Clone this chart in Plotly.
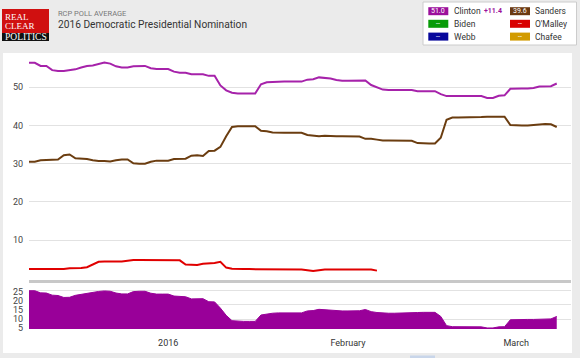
import plotly.graph_objects as go
import pandas as pd

# ---------------- data ----------------
start_date = "2015-12-08"
n_days = 92
dates = pd.date_range(start_date, periods=n_days, freq="D")

clinton = [56.4, 56.4, 55.6, 55.6, 54.5, 54.3, 54.3, 54.6, 54.7, 55.2,
           55.6, 55.7, 56.2, 56.5, 56.2, 55.5, 55.2, 55.2, 55.5, 55.6,
           55.6, 55.0, 54.8, 54.8, 54.8, 54.1, 53.8, 53.8, 53.4, 53.4,
           53.4, 53.0, 53.0, 50.5, 49.2, 48.6, 48.4, 48.4, 48.4, 48.4,
           50.8, 51.3, 51.4, 51.5, 51.5, 51.5, 51.5, 51.5, 52.0, 52.1,
           52.6, 52.4, 52.3, 51.9, 51.7, 51.7, 51.7, 51.7, 51.8, 50.6,
           49.9, 49.4, 49.3, 49.3, 49.3, 49.3, 49.3, 49.0, 49.0, 49.0,
           49.0, 48.2, 47.7, 47.7, 47.7, 47.7, 47.7, 47.7, 47.7, 47.2,
           47.2, 47.8, 47.9, 49.6, 49.7, 49.7, 49.7, 49.8, 50.2, 50.2,
           50.3, 51.0]

sanders = [30.5, 30.5, 30.9, 31.0, 31.1, 31.1, 32.2, 32.4, 31.4, 31.3,
           31.2, 30.9, 30.7, 30.7, 30.6, 30.9, 31.1, 31.1, 30.1, 30.0,
           30.0, 30.5, 30.8, 30.8, 30.8, 31.2, 31.3, 31.3, 32.1, 32.2,
           32.0, 33.3, 33.4, 34.4, 37.2, 39.6, 39.8, 39.8, 39.8, 39.8,
           38.6, 38.5, 38.2, 38.1, 38.1, 38.1, 38.1, 38.1, 37.5, 37.4,
           37.2, 37.3, 37.2, 37.2, 37.2, 37.2, 37.2, 37.1, 36.5, 36.5,
           36.3, 36.1, 36.1, 36.1, 36.1, 36.1, 36.0, 35.4, 35.3, 35.3,
           35.3, 36.8, 41.5, 42.1, 42.1, 42.1, 42.1, 42.1, 42.2, 42.3,
           42.3, 42.3, 42.3, 40.1, 40.0, 40.0, 40.0, 40.1, 40.3, 40.4,
           40.3, 39.6]

omalley = [2.4, 2.4, 2.4, 2.4, 2.3, 2.3, 2.4, 2.6, 2.6, 2.7,
           2.9, 3.6, 4.3, 4.4, 4.4, 4.4, 4.4, 4.6, 4.8, 4.8,
           4.8, 4.8, 4.8, 4.8, 4.8, 4.8, 4.7, 3.6, 3.5, 3.5,
           3.8, 3.9, 4.0, 4.3, 2.8, 2.5, 2.4, 2.4, 2.4, 2.4,
           2.4, 2.4, 2.4, 2.4, 2.4, 2.3, 2.3, 2.3, 2.1, 1.9,
           2.1, 2.3, 2.3, 2.3, 2.3, 2.3, 2.3, 2.3, 2.3, 2.3,
           2.0]

spread = [25.9, 25.9, 24.7, 24.6, 23.4, 23.2, 22.1, 22.2, 23.3, 23.9,
          24.4, 24.8, 25.5, 25.8, 25.6, 24.6, 24.1, 24.1, 25.4, 25.6,
          25.6, 24.5, 24.0, 24.0, 24.0, 22.9, 22.5, 22.5, 21.3, 21.2,
          21.4, 19.7, 19.6, 16.1, 12.0, 9.0, 8.6, 8.6, 8.6, 8.6,
          12.2, 12.8, 13.2, 13.4, 13.4, 13.4, 13.4, 13.4, 14.5, 14.7,
          15.4, 15.1, 15.1, 14.7, 14.5, 14.5, 14.5, 14.6, 15.3, 14.1,
          13.6, 13.3, 13.2, 13.2, 13.2, 13.2, 13.3, 13.6, 13.7, 13.7,
          13.7, 11.4, 6.2, 5.6, 5.6, 5.6, 5.6, 5.6, 5.5, 4.9,
          4.9, 5.5, 5.6, 9.5, 9.7, 9.7, 9.7, 9.7, 9.9, 9.8,
          10.0, 11.4]

main_ticks = [10, 20, 30, 40, 50]
spread_ticks = [5, 10, 15, 20, 25]
month_ticks = ["2016-01-01", "2016-02-01", "2016-03-01"]
month_labels = ["2016", "February", "March"]

legend_names = ["Clinton", "Sanders", "Biden", "O'Malley", "Webb", "Chafee"]
legend_values = ["51.0", "39.6", "--", "--", "--", "--"]
legend_colors = ["#9b109b", "#6b3a12", "#079b07", "#d80000", "#07079b", "#d29b00"]
spread_label = "+11.4"

# ---------------- layout helpers (pixel -> paper) ----------------
W, H = 580, 358
ML, MR, MT, MB = 29, 9, 54, 29
PW, PH = W - ML - MR, H - MT - MB


def px(x):
    return (x - ML) / PW


def py(y):
    return (H - MB - y) / PH


x_range = ["2015-12-08 00:00", "2016-03-10 11:00"]
font_fam = "Roboto, Arial, sans-serif"

fig = go.Figure()

fig.add_trace(go.Scatter(x=dates, y=sanders, mode="lines",
                         line=dict(color="#6b3d10", width=2),
                         xaxis="x", yaxis="y", hoverinfo="skip"))
fig.add_trace(go.Scatter(x=dates[:len(omalley)], y=omalley, mode="lines",
                         line=dict(color="#e00000", width=2),
                         xaxis="x", yaxis="y", hoverinfo="skip"))
fig.add_trace(go.Scatter(x=dates, y=clinton, mode="lines",
                         line=dict(color="#a622aa", width=2),
                         xaxis="x", yaxis="y", hoverinfo="skip"))
fig.add_trace(go.Scatter(x=dates, y=spread, mode="lines", fill="tozeroy",
                         line=dict(color="#990099", width=1),
                         fillcolor="#990099",
                         xaxis="x2", yaxis="y2", hoverinfo="skip"))
# invisible trace to carry the lower-panel grid overlay axis
fig.add_trace(go.Scatter(x=[dates[0]], y=[spread[0]], mode="markers",
                         marker=dict(opacity=0), xaxis="x2", yaxis="y3",
                         hoverinfo="skip"))

main_bottom = py(280)
lower_top = py(284)
spread_range = [4.3, 29.7]

fig.update_layout(
    width=W, height=H,
    margin=dict(l=ML, r=MR, t=MT, b=MB),
    paper_bgcolor="#ebebeb",
    plot_bgcolor="#f9f9fc",
    showlegend=False,
    hovermode=False,
    font=dict(family=font_fam, size=9, color="#333333"),
    xaxis=dict(domain=[0, 1], range=x_range, type="date", anchor="y",
               showticklabels=False, showgrid=False, zeroline=False,
               showline=True, linecolor="#c8c8c8", linewidth=3, ticks=""),
    yaxis=dict(domain=[main_bottom, 1], range=[-0.45, 58.72], anchor="x",
               tickvals=main_ticks, showgrid=True, gridcolor="#e2e2e2",
               gridwidth=1, zeroline=False, ticks="", ticklabelstandoff=5,
               tickfont=dict(size=9, color="#444444")),
    xaxis2=dict(domain=[0, 1], range=x_range, type="date", anchor="y2",
                tickvals=month_ticks, ticktext=month_labels,
                showgrid=False, zeroline=False, showline=False, ticks="",
                ticklabelstandoff=7, tickfont=dict(size=9, color="#333333")),
    yaxis2=dict(domain=[0, lower_top], range=spread_range, anchor="x2",
                tickvals=spread_ticks, showgrid=False, zeroline=False,
                ticks="", ticklabelstandoff=5,
                tickfont=dict(size=9, color="#444444")),
    yaxis3=dict(overlaying="y2", anchor="x2", range=spread_range,
                tickvals=[9.9, 18.2, 26.3], showticklabels=False,
                showgrid=True, gridcolor="#e2e2e2", zeroline=False, ticks=""),
)

shapes = []
annotations = []

# white chart panel
shapes.append(dict(type="rect", xref="paper", yref="paper", layer="below",
                   x0=px(3), x1=px(572), y0=py(353), y1=py(53),
                   fillcolor="#ffffff", line=dict(width=0)))
# scrollbar hint at bottom
shapes.append(dict(type="rect", xref="paper", yref="paper", layer="below",
                   x0=px(410), x1=px(435), y0=py(358), y1=py(355.5),
                   fillcolor="#c9d6ea", line=dict(width=0)))

# logo
shapes.append(dict(type="rect", xref="paper", yref="paper",
                   x0=px(2), x1=px(49), y0=py(33), y1=py(9),
                   fillcolor="#d01010", line=dict(width=0)))
shapes.append(dict(type="rect", xref="paper", yref="paper",
                   x0=px(2), x1=px(49), y0=py(41), y1=py(33),
                   fillcolor="#111111", line=dict(width=0)))
for txt, yc, sz in [("REAL", 17, 9), ("CLEAR", 26.5, 9), ("POLITICS", 37, 9.5)]:
    annotations.append(dict(xref="paper", yref="paper", x=px(3), y=py(yc),
                            xanchor="left", yanchor="middle", showarrow=False,
                            text=txt, font=dict(family="Liberation Serif, serif",
                                                size=sz, color="#ffffff")))

# header
annotations.append(dict(xref="paper", yref="paper", x=px(56), y=py(14),
                        xanchor="left", yanchor="middle", showarrow=False,
                        text="RCP POLL AVERAGE",
                        font=dict(family=font_fam, size=7.5, color="#777777")))
annotations.append(dict(xref="paper", yref="paper", x=px(56), y=py(25),
                        xanchor="left", yanchor="middle", showarrow=False,
                        text="2016 Democratic Presidential Nomination",
                        font=dict(family=font_fam, size=10.2, color="#333333")))

# legend box
shapes.append(dict(type="rect", xref="paper", yref="paper",
                   x0=px(423), x1=px(576.5), y0=py(45), y1=py(2),
                   fillcolor="#ffffff", line=dict(color="#cccccc", width=1)))
col_box = [428.3, 510]
col_text = [451.5, 533]
row_y = [11.2, 23.8, 36.6]
for i, (name, val, col) in enumerate(zip(legend_names, legend_values, legend_colors)):
    r, c = i // 2, i % 2
    yc = row_y[r]
    shapes.append(dict(type="rect", xref="paper", yref="paper",
                       x0=px(col_box[c]), x1=px(col_box[c] + 20),
                       y0=py(yc + 4), y1=py(yc - 4),
                       fillcolor=col, line=dict(width=0)))
    annotations.append(dict(xref="paper", yref="paper", x=px(col_box[c] + 10),
                            y=py(yc), xanchor="center", yanchor="middle",
                            showarrow=False, text=val,
                            font=dict(family=font_fam, size=7, color="#ffffff")))
    annotations.append(dict(xref="paper", yref="paper", x=px(col_text[c]),
                            y=py(yc), xanchor="left", yanchor="middle",
                            showarrow=False, text=name,
                            font=dict(family=font_fam, size=8.5, color="#333333")))
annotations.append(dict(xref="paper", yref="paper", x=px(481.5), y=py(11.2),
                        xanchor="left", yanchor="middle", showarrow=False,
                        text="<b>" + spread_label + "</b>",
                        font=dict(family=font_fam, size=7, color="#9b109b")))

fig.update_layout(shapes=shapes, annotations=annotations)

fig.write_html("out.html",
               config={"displayModeBar": False, "staticPlot": True},
               post_script="document.body.style.margin='0';"
                           "document.body.style.padding='0';")
